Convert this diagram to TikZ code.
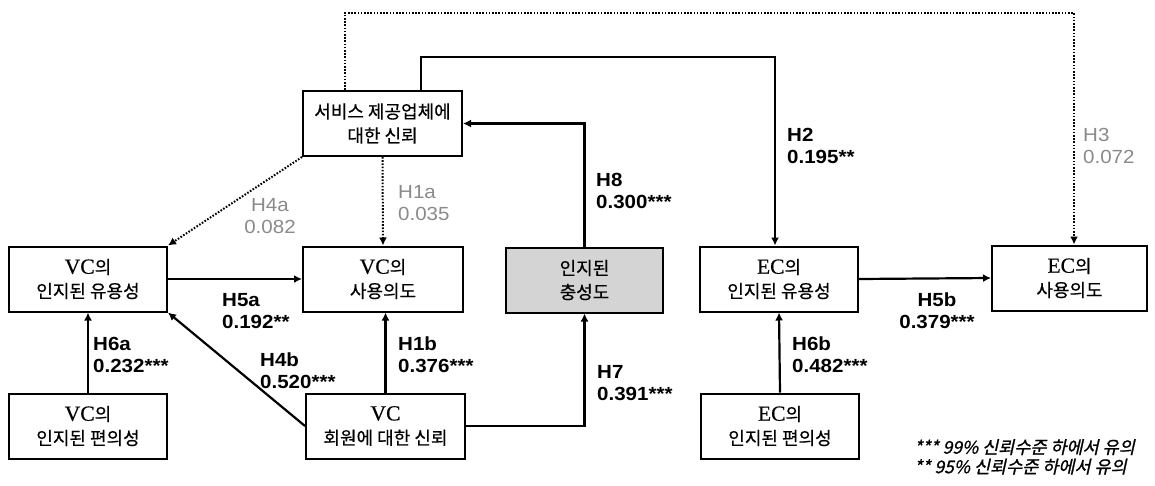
\documentclass[tikz,border=0pt]{standalone}
\usepackage{fontspec}
\setmainfont{Liberation Serif}
\newfontfamily\kr[FakeBold=0.5]{Noto Sans CJK KR}
\newfontfamily\krit[FakeSlant=0.22,FakeBold=1]{Noto Sans CJK KR}
\newfontfamily\lat[Scale=1.2,FakeBold=0.5]{Liberation Serif}
\newfontfamily\lab[FakeStretch=1.08]{Liberation Sans}
\usetikzlibrary{arrows.meta}
\definecolor{nsgray}{HTML}{8A8A8A}
\definecolor{shade}{HTML}{D4D4D4}
\tikzset{
  box/.style={draw, line width=2pt, inner sep=0pt, align=center,
    minimum width=158pt, minimum height=65pt,
    font=\kr\fontsize{18}{24}\selectfont},
  conn/.style={line width=2.2pt, -{Latex[length=8pt,width=8pt]}},
  dotconn/.style={line width=2pt, dash pattern=on 1.6pt off 1.6pt,
    -{Latex[length=8pt,width=8pt]}},
  sig/.style={inner sep=0pt, align=left,
    font=\lab\bfseries\fontsize{19}{22}\selectfont},
  nsig/.style={inner sep=0pt, align=left, text=nsgray,
    font=\lab\fontsize{19}{22}\selectfont},
  note/.style={inner sep=0pt, align=left,
    font=\krit\fontsize{17.5}{19.5}\selectfont}
}
\begin{document}
\begin{tikzpicture}[x=1pt,y=-1pt]
\useasboundingbox (0,0) rectangle (1155,485);
% boxes
\node[box, minimum width=159pt] (S) at (382.5,123.5) {서비스 제공업체에\\대한 신뢰};
\node[box] (VU) at (88,279) {{\lat VC}의\\인지된 유용성};
\node[box, minimum width=160pt] (VI) at (383,279) {{\lat VC}의\\사용의도};
\node[box, fill=shade, minimum width=157pt] (L) at (584.5,280) {인지된\\충성도};
\node[box] (EU) at (779,279) {{\lat EC}의\\인지된 유용성};
\node[box, minimum width=155pt] (EI) at (1069.5,278) {{\lat EC}의\\사용의도};
\node[box] (VCv) at (88,426) {{\lat VC}의\\인지된 편의성};
\node[box, minimum width=159pt] (VM) at (385.5,426) {{\lat VC}\\회원에 대한 신뢰};
\node[box] (ECv) at (780,426) {{\lat EC}의\\인지된 편의성};
% routing points
\coordinate (h3a) at (345,13);
\coordinate (h3b) at (1074,13);
\coordinate (h2a) at (421,57);
\coordinate (h2b) at (775,57);
% connectors
\draw[dotconn] (S.north -| h3a) -- (h3a) -- (h3b) -- (EI.north -| h3b);
\draw[conn] (S.north -| h2a) -- (h2a) -- (h2b) -- (EU.north -| h2b);
\draw[conn] (L.north) |- (S.east);
\draw[dotconn] (S.south) -- (VI.north);
\draw[dotconn] (S.south west) -- (VU.north east);
\draw[conn] (VU.east) -- (VI.west);
\draw[conn] (VCv.north) -- (VU.south);
\draw[conn] (VM.west) -- (VU.south east);
\draw[conn] (VM.north) -- (VM.north |- VI.south);
\draw[conn] (VM.east) -| (L.south);
\draw[conn] (ECv.north) -- (EU.south);
\draw[conn] (EU.east) -- (EI.west);
% labels
\node[nsig, align=center, anchor=north] (lH4a) at (270,198) {H4a\\0.082};
\node[nsig, anchor=north west] (lH1a) at (398,185) {H1a\\0.035};
\node[sig, anchor=north west] (lH8) at (596,173) {H8\\0.300***};
\node[sig, anchor=north west] (lH2) at (787,128) {H2\\0.195**};
\node[nsig, anchor=north west] (lH3) at (1083,128) {H3\\0.072};
\node[sig, anchor=north west] (lH5a) at (222,293) {H5a\\0.192**};
\node[sig, anchor=north west] (lH6a) at (93,337) {H6a\\0.232***};
\node[sig, anchor=north west] (lH4b) at (260,353) {H4b\\0.520***};
\node[sig, anchor=north west] (lH1b) at (398,337) {H1b\\0.376***};
\node[sig, anchor=north west] (lH7) at (597,365) {H7\\0.391***};
\node[sig, anchor=north west] (lH6b) at (792,337) {H6b\\0.482***};
\node[sig, align=center, anchor=north] (lH5b) at (937,293) {H5b\\0.379***};
\node[note, anchor=north west] (legend) at (914,439) {*** 99\% 신뢰수준 하에서 유의\\** 95\% 신뢰수준 하에서 유의};
\end{tikzpicture}
\end{document}
